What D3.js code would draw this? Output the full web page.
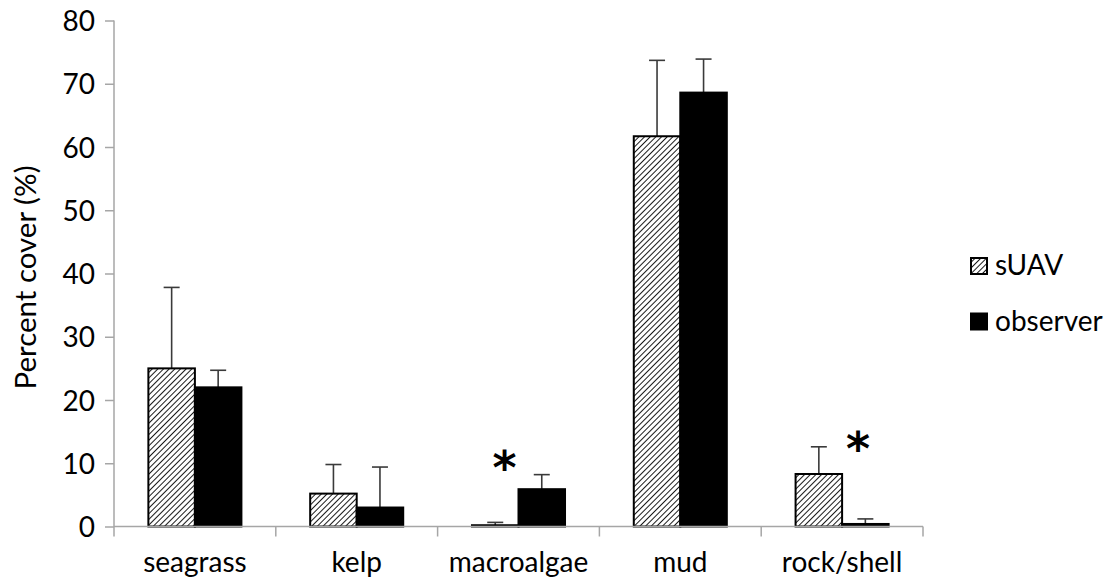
<!DOCTYPE html>
<html>
<head>
<meta charset="utf-8">
<script src="https://cdn.jsdelivr.net/npm/d3@7"></script>
<style>
  html, body { margin: 0; padding: 0; background: #fff; }
  text { font-family: Lato, "Open Sans", sans-serif; fill: #000; }
</style>
</head>
<body>
<div id="chart"></div>
<script>
const categories = ["seagrass", "kelp", "macroalgae", "mud", "rock/shell"]
const series = ["sUAV", "observer"]
const suavMean = [25.0, 5.2, 0.2, 61.7, 8.3]
const suavErr = [12.8, 4.6, 0.45, 12.0, 4.3]
const observerMean = [22.0, 3.0, 5.9, 68.6, 0.4]
const observerErr = [2.7, 6.4, 2.3, 5.3, 0.8]
const yTicks = [0, 10, 20, 30, 40, 50, 60, 70, 80]
const starCategories = ["macroalgae", "rock/shell"]
const starValues = [11.3, 14.2]

const width = 1106, height = 581
const margin = { top: 20.5, right: 183, bottom: 54.5, left: 114 }
const fontSize = "28px"

const svg = d3.select("#chart").append("svg")
  .attr("width", width)
  .attr("height", height)
  .attr("viewBox", [0, 0, width, height])

// hatch pattern for sUAV
const defs = svg.append("defs")
const pat = defs.append("pattern")
  .attr("id", "hatch")
  .attr("patternUnits", "userSpaceOnUse")
  .attr("width", 4)
  .attr("height", 4)
  .attr("patternTransform", "rotate(45)")
pat.append("rect").attr("width", 4).attr("height", 4).attr("fill", "#fff")
pat.append("line")
  .attr("x1", 0).attr("y1", 0).attr("x2", 0).attr("y2", 4)
  .attr("stroke", "#000").attr("stroke-width", 1.8)

const x = d3.scaleBand()
  .domain(categories)
  .range([margin.left, width - margin.right])
const xs = d3.scaleBand()
  .domain(series)
  .range([x.bandwidth() * 0.2125, x.bandwidth() * 0.7875])
const y = d3.scaleLinear()
  .domain([0, 80])
  .range([height - margin.bottom, margin.top])

const rows = categories.map((c, i) => [
  { cat: c, s: "sUAV", v: suavMean[i], e: suavErr[i] },
  { cat: c, s: "observer", v: observerMean[i], e: observerErr[i] }
]).flat()

// error bars (upper only), drawn under bars
const eb = svg.append("g")
  .attr("stroke", "#3a3a3a")
  .attr("stroke-width", 1.6)
  .selectAll("g")
  .data(rows)
  .join("g")
eb.append("line")
  .attr("x1", d => x(d.cat) + xs(d.s) + xs.bandwidth() / 2)
  .attr("x2", d => x(d.cat) + xs(d.s) + xs.bandwidth() / 2)
  .attr("y1", d => y(d.v))
  .attr("y2", d => y(d.v + d.e))
eb.append("line")
  .attr("x1", d => x(d.cat) + xs(d.s) + xs.bandwidth() / 2 - 8)
  .attr("x2", d => x(d.cat) + xs(d.s) + xs.bandwidth() / 2 + 8)
  .attr("y1", d => y(d.v + d.e))
  .attr("y2", d => y(d.v + d.e))

// bars
svg.append("g")
  .selectAll("rect")
  .data(rows)
  .join("rect")
  .attr("x", d => x(d.cat) + xs(d.s))
  .attr("y", d => y(d.v))
  .attr("width", xs.bandwidth())
  .attr("height", d => y(0) - y(d.v))
  .attr("fill", d => d.s === "sUAV" ? "url(#hatch)" : "#000")
  .attr("stroke", "#000")
  .attr("stroke-width", 2)

// y axis
const yAxis = d3.axisLeft(y).tickValues(yTicks).tickSize(9).tickPadding(10).tickSizeOuter(0)
const gy = svg.append("g")
  .attr("transform", `translate(${margin.left},0)`)
  .call(yAxis)
gy.select(".domain").remove()
gy.selectAll(".tick line").attr("stroke", "#a6a6a6").attr("stroke-width", 1.5)
gy.selectAll(".tick text")
  .style("font-size", fontSize)
  .attr("dy", "0.36em")
gy.append("line")
  .attr("x1", 0).attr("x2", 0)
  .attr("y1", margin.top).attr("y2", y(0) + 10)
  .attr("stroke", "#a6a6a6").attr("stroke-width", 1.5)

// x axis
const gx = svg.append("g")
  .attr("transform", `translate(0,${y(0)})`)
gx.append("line")
  .attr("x1", margin.left).attr("x2", width - margin.right)
  .attr("stroke", "#a6a6a6").attr("stroke-width", 1.5)
gx.selectAll(".sep")
  .data(categories)
  .join("line")
  .attr("class", "sep")
  .attr("x1", d => x(d) + x.bandwidth())
  .attr("x2", d => x(d) + x.bandwidth())
  .attr("y1", 0).attr("y2", 10)
  .attr("stroke", "#a6a6a6").attr("stroke-width", 1.5)
gx.selectAll(".lab")
  .data(categories)
  .join("text")
  .attr("class", "lab")
  .attr("x", d => x(d) + x.bandwidth() / 2)
  .attr("y", 45.5)
  .attr("text-anchor", "middle")
  .style("font-size", fontSize)
  .text(d => d)

// y title
svg.append("text")
  .attr("transform", `translate(36,${(y(0) + y(80)) / 2 + 4}) rotate(-90)`)
  .attr("text-anchor", "middle")
  .style("font-size", "29.5px")
  .text("Percent cover (%)")

// significance stars
const starShift = [-14, 16]
svg.selectAll(".star")
  .data(starCategories)
  .join("text")
  .attr("class", "star")
  .attr("x", (d, i) => x(d) + x.bandwidth() / 2 + starShift[i])
  .attr("y", (d, i) => y(starValues[i]))
  .attr("dy", "0.62em")
  .attr("text-anchor", "middle")
  .style("font-size", "46px")
  .style("font-weight", "bold")
  .style("font-family", "DejaVu Sans")
  .text("*")

// legend
const lg = svg.append("g").attr("transform", "translate(970,257)")
const li = lg.selectAll("g")
  .data(series)
  .join("g")
  .attr("transform", (d, i) => `translate(0,${i * 55.5})`)
li.append("rect")
  .attr("x", 1).attr("y", 1)
  .attr("width", 16).attr("height", 16)
  .attr("fill", d => d === "sUAV" ? "url(#hatch)" : "#000")
  .attr("stroke", "#000")
  .attr("stroke-width", 2)
li.append("text")
  .attr("x", 25)
  .attr("y", 18)
  .style("font-size", fontSize)
  .text(d => d)
</script>
</body>
</html>
